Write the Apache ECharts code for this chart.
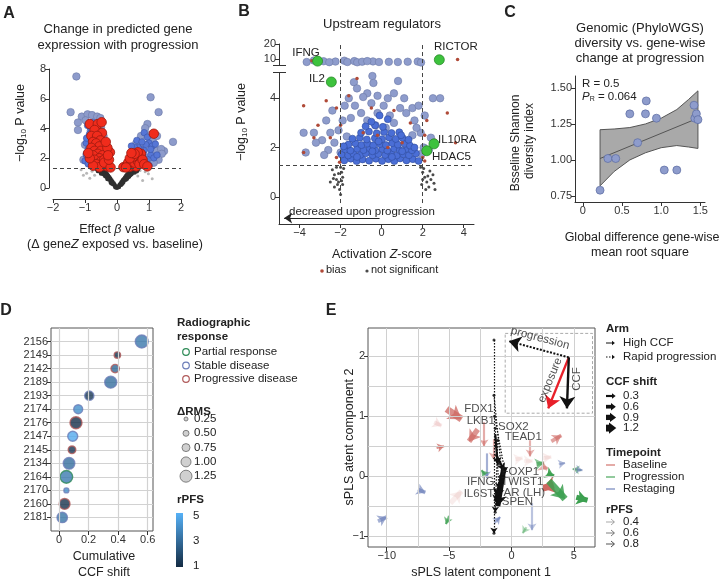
<!DOCTYPE html>
<html>
<head>
<meta charset="utf-8">
<script src="https://cdn.jsdelivr.net/npm/echarts@6/dist/echarts.min.js"></script>
<style>html,body{margin:0;padding:0;background:#fff}#main{width:720px;height:582px}</style>
</head>
<body>
<div id="main"></div>
<script>
var FF = '"Liberation Sans", Arial, Helvetica, sans-serif';

// ---- A: volcano, effect beta vs -log10 P
var aDark = [[0,0.02],[-0.03,0.08],[0.04,0.1],[-0.07,0.18],[0.08,0.2],[-0.1,0.3],[0.11,0.28],[-0.14,0.4],[0.14,0.38],[-0.17,0.5],[0.18,0.52],[-0.21,0.62],[0.22,0.6],[-0.24,0.72],[0.25,0.7],[-0.28,0.83],[0.29,0.82],[-0.31,0.93],[0.32,0.9],[-0.35,1.05],[0.36,1.02],[-0.38,1.15],[0.39,1.12],[-0.42,1.25],[0.43,1.24],[-0.12,0.25],[0.13,0.22],[-0.2,0.42],[0.2,0.4],[-0.26,0.58],[0.27,0.55],[-0.33,0.75],[0.34,0.72],[-0.4,0.9],[0.41,0.88],[-0.46,1.05],[0.47,1.02],[-0.5,1.18],[0.52,1.15],[-0.55,1.28],[0.57,1.25],[-0.3,0.6],[0.31,0.62],[-0.37,0.8],[0.38,0.78],[-0.44,0.95],[0.45,0.93],[-0.5,0.98],[0.55,1.05],[-0.6,1.15],[0.62,1.12],[-0.18,0.32],[0.17,0.3],[-0.05,0.05],[0.06,0.06],[-0.48,1.28],[0.5,1.3],[-0.65,1.3],[0.66,1.28]];
var aPale = [[-0.95,1.0],[-1.05,0.85],[-0.78,1.12],[0.88,1.1],[0.98,0.95],[1.1,0.62],[-1.12,1.22],[0.72,1.18],[-0.7,0.85],[0.65,0.8],[-0.85,0.65],[0.8,0.5]];
var aBlueLight = [[-1.27,7.5],[-1.45,5.1],[-1.1,4.8],[-0.92,4.95],[-1.22,4.4],[-1.22,3.9],[-0.78,4.9],[-0.62,4.8],[-0.52,4.7],[-0.98,4.55],[-0.82,3.85],[-0.88,3.4],[-0.72,3.25],[-0.5,4.05],[-0.42,3.5],[-1.0,2.9],[-0.95,2.3],[-1.05,1.9],[1.05,6.1],[1.3,5.1],[1.75,3.1],[0.95,4.3],[0.88,4.02],[1.22,2.5],[1.47,2.48],[1.38,2.62],[1.12,3.2],[0.75,3.5],[1.25,3.5],[0.8,2.85],[1.0,3.55],[1.4,2.3],[0.6,3.0],[1.3,1.9],[1.15,1.7],[0.9,1.45]];
var aBlue = [[-0.92,4.2],[-0.76,4.42],[-0.82,4.02],[-0.66,4.2],[-0.86,3.62],[-0.72,3.62],[-0.96,3.02],[-0.9,2.62],[-0.96,2.22],[-1.0,1.82],[-0.86,2.02],[-0.8,2.92],[-0.6,3.52],[-0.56,3.82],[-0.9,1.62],[-0.78,1.45],[-0.95,3.35],[-0.65,3.9],[0.85,3.72],[0.95,3.42],[1.0,3.02],[1.1,2.82],[0.9,2.92],[0.85,2.52],[1.05,2.22],[1.15,2.02],[0.82,2.22],[0.95,1.92],[0.9,1.62],[1.0,1.52],[0.72,2.62],[0.66,2.72],[1.25,2.22],[0.78,1.72],[0.55,2.72],[0.48,2.52],[0.45,2.82],[0.62,3.2],[1.05,2.6],[1.2,2.95],[0.78,3.1]];
var aRed = [[-0.85,4.3],[-0.6,4.3],[-0.48,4.42],[-0.7,3.9],[-0.47,3.7],[-0.8,3.5],[-0.62,3.5],[-0.52,3.2],[-0.75,3.1],[-0.65,3.0],[-0.55,2.8],[-0.8,2.7],[-0.7,2.5],[-0.5,2.5],[-0.6,2.3],[-0.75,2.2],[-0.45,2.2],[-0.55,2.0],[-0.7,1.9],[-0.5,1.8],[-0.4,1.9],[-0.65,1.6],[-0.45,1.5],[-0.3,1.45],[-0.55,1.4],[-0.75,1.5],[-0.85,2.0],[-0.9,2.35],[-0.4,1.7],[-0.2,1.38],[-0.25,1.9],[-0.22,2.4],[-0.3,2.7],[-0.35,3.1],[-0.28,2.2],[0.2,1.4],[0.3,1.5],[0.4,1.42],[0.5,1.5],[0.6,1.45],[0.35,1.7],[0.45,1.8],[0.55,1.7],[0.65,1.8],[0.7,2.0],[0.6,2.2],[0.5,2.1],[0.4,2.0],[0.75,2.3],[0.65,2.4],[0.55,2.3],[0.7,1.6],[1.15,3.65],[0.28,1.38],[0.8,1.9],[0.85,1.6],[0.45,2.35],[0.95,1.45]];

// ---- B: upstream regulators (raw -log10 P, values above 5 go to the broken top)
var bBlueLight = [[-3.65,8.0],[-3.3,9.0],[-2.83,8.5],[-2.25,8.3],[-1.82,8.9],[-1.67,8.0],[-1.33,8.6],[-1.19,7.8],[-0.95,8.2],[-0.42,8.4],[-0.13,8.0],[0.35,8.1],[0.79,8.0],[1.27,8.2],[1.76,8.3],[1.92,7.7],[-2.55,7.9],[-0.7,8.6],[-1.35,4.65],[-0.45,4.9],[-0.4,4.62],[0.8,4.7],[-1.2,4.4],[-0.7,4.2],[-1.6,4.0],[-0.9,4.05],[-0.2,4.1],[0.3,4.0],[0.6,4.2],[1.1,4.0],[2.5,4.0],[2.85,4.0],[-1.8,3.7],[-1.3,3.7],[-0.5,3.8],[0.1,3.7],[0.9,3.6],[1.5,3.6],[1.8,3.7],[-2.4,3.5],[-1.0,3.4],[-0.2,3.4],[0.4,3.3],[1.2,3.4],[2.1,3.3],[-2.7,3.1],[-1.9,3.1],[-1.5,3.2],[-0.7,3.1],[0.6,3.0],[1.6,3.1],[-3.3,2.6],[-3.8,2.6],[-2.5,2.6],[-2.9,2.3],[-3.2,2.2],[-3.7,1.8],[-2.6,1.9],[-2.3,2.2],[1.9,2.6],[2.4,2.4],[1.7,2.8],[-0.3,2.9],[0.2,2.8],[-2.1,2.7],[-2.0,1.8],[1.95,1.75],[2.05,2.0],[-1.7,2.45],[1.5,2.5],[-2.8,1.7],[2.3,1.9]];
var bBlue = [[-1.82,1.48],[-1.5,1.55],[-1.22,1.45],[-0.93,1.52],[-0.61,1.47],[-0.28,1.55],[0.02,1.46],[0.33,1.53],[0.62,1.45],[0.9,1.56],[1.21,1.48],[1.52,1.53],[1.8,1.46],[-1.95,1.72],[-1.63,1.68],[-1.37,1.75],[-1.04,1.7],[-0.77,1.77],[-0.44,1.69],[-0.16,1.74],[0.17,1.7],[0.46,1.78],[0.74,1.68],[1.06,1.73],[1.33,1.69],[1.67,1.76],[-1.78,1.93],[-1.52,1.88],[-1.19,1.95],[-0.88,1.9],[-0.58,1.97],[-0.31,1.89],[0.04,1.94],[0.28,1.88],[0.61,1.96],[0.88,1.9],[1.22,1.95],[1.48,1.89],[-1.62,2.12],[-1.28,2.17],[-0.98,2.1],[-0.69,2.16],[-0.41,2.09],[-0.08,2.14],[0.21,2.1],[0.52,2.18],[0.79,2.12],[1.12,2.15],[1.38,2.08],[-1.42,2.36],[-1.06,2.4],[-0.72,2.33],[-0.33,2.38],[0.02,2.34],[0.36,2.41],[0.69,2.35],[1.02,2.39],[1.31,2.32],[-1.0,2.6],[-0.62,2.65],[-0.24,2.58],[0.12,2.63],[0.48,2.59],[0.86,2.62],[-0.78,2.86],[-0.32,2.9],[0.06,2.84],[-0.5,3.05],[0.3,3.15],[-0.1,3.3],[-1.2,1.62],[0.5,1.62],[-0.45,1.85],[1.0,1.85],[-1.85,2.05],[1.6,2.0],[-0.15,2.25],[0.95,2.5]];
var bBias = [[-3.8,3.7],[-3.8,1.8],[-3.3,2.4],[-3.1,2.9],[-2.7,3.9],[-2.2,3.6],[-2.0,2.9],[-1.6,4.1],[-1.2,4.8],[-0.5,3.6],[-0.9,2.6],[0.6,3.5],[1.4,3.0],[2.2,3.1],[2.1,2.5],[3.2,3.4],[3.6,2.2],[2.6,2.3],[2.0,1.6],[-2.2,1.6],[-2.5,2.4],[2.1,1.45],[-2.05,1.4],[0.3,2.0],[-0.2,2.5],[1.0,2.2],[3.7,9.7],[-3.4,8.8]];
var bNs = [[-2.4,1.1],[-2.3,0.9],[-2.2,0.7],[-2.15,0.5],[-2.05,0.3],[-2.0,1.2],[-1.95,1.0],[-1.9,0.8],[-2.1,0.6],[-2.3,0.4],[-2.5,0.6],[-2.0,0.1],[-1.9,0.5],[-2.2,1.2],[-1.85,1.15],[-2.35,0.75],[-1.95,0.65],[-2.1,0.95],[1.9,1.2],[2.0,1.0],[2.1,0.8],[2.2,0.6],[2.3,0.4],[2.4,0.7],[2.5,0.9],[2.15,0.3],[1.95,0.5],[2.6,0.3],[2.05,1.15],[2.35,1.05],[2.25,0.85],[2.55,0.55],[2.0,0.7]];
var bGenes = ['IFNG', 'RICTOR', 'IL2', 'IL10RA', 'HDAC5'];
var bGeneX = [-3.12, 2.81, -2.45, 2.55, 2.2];
var bGeneP = [8.6, 9.5, 4.66, 2.15, 1.87];
var bYTicks = [0, 2, 4, 10, 20];

// ---- C: diversity vs gene-wise change
var cX = [0.22, 0.32, 0.42, 0.6, 0.7, 0.8, 0.81, 0.94, 1.04, 1.2, 1.42, 1.43, 1.45, 1.47];
var cY = [0.79, 1.01, 1.01, 1.32, 1.12, 1.32, 1.41, 1.29, 0.93, 0.93, 1.38, 1.29, 1.32, 1.28];
var cFitX = [0.22, 1.47];
var cFitY = [1.01, 1.29];
var cBandX = [0.22, 0.4, 0.6, 0.8, 1.0, 1.2, 1.35, 1.47];
var cBandLo = [0.82, 0.92, 1.0, 1.05, 1.085, 1.1, 1.09, 1.08];
var cBandHi = [1.21, 1.215, 1.225, 1.25, 1.29, 1.35, 1.42, 1.48];

// ---- D: cumulative CCF shift per patient (top to bottom)
var dIds = ['2156','2149','2142','2189','2193','2174','2176','2147','2145','2134','2164','2170','2160','2181'];
var dShift = [0.56, 0.395, 0.38, 0.35, 0.205, 0.13, 0.115, 0.093, 0.088, 0.068, 0.05, 0.05, 0.038, 0.022];
var dRms = [1.37, 0.55, 0.8, 1.25, 0.9, 0.87, 1.25, 1.0, 0.7, 1.2, 1.33, 0.37, 1.1, 1.05];
var dPfs = [3.3, 1.2, 2.8, 3.0, 1.4, 4.0, 1.1, 4.8, 1.3, 3.0, 3.4, 4.0, 1.2, 3.2];
var dResp = ['S','P','P','S','S','S','P','S','P','S','R','S','P','S'];
var dRespNames = ['Partial response', 'Stable disease', 'Progressive disease'];
var dRmsTicks = [0.25, 0.5, 0.75, 1.0, 1.25];

// ---- E: sPLS latent space arrows [x0, y0, x1, y1, timepoint, rPFS, CCF shift]
var eArrows = [
  [-5.2,1.12,-4.0,0.95,'B',0.75,1.2],[-6.2,0.9,-5.6,0.84,'B',0.15,0.6],[-2.7,0.78,-3.4,0.58,'B',0.7,0.9],
  [-6.0,0.47,-5.4,0.5,'B',0.75,0.3],[-2.2,0.9,-2.2,0.5,'B',0.55,0.3],[-1.45,0.62,-1.45,0.28,'B',0.5,0.3],
  [-2.0,0.38,-2.0,-0.03,'R',0.6,0.3],[-2.1,0.02,-2.4,0.1,'P',0.7,0.3],[-7.5,-0.22,-6.9,-0.27,'R',0.6,0.6],
  [-4.9,-0.45,-4.0,-0.25,'B',0.12,0.9],[-10.7,-0.75,-10.0,-0.68,'R',0.6,0.6],[-5.0,-0.66,-5.25,-0.8,'P',0.7,0.3],
  [3.2,0.58,4.0,0.68,'B',0.6,0.6],[1.5,0.6,1.5,0.33,'B',0.5,0.3],[1.0,0.25,1.7,0.25,'B',0.1,0.6],
  [2.5,0.3,3.2,0.32,'B',0.12,0.6],[2.0,0.2,2.6,0.22,'P',0.6,0.6],[2.5,0.16,2.9,0.12,'B',0.5,0.6],
  [3.8,0.2,4.3,0.22,'R',0.5,0.3],[5.6,0.1,4.9,0.12,'P',0.5,0.3],[5.0,0.12,5.7,0.1,'R',0.5,0.3],
  [2.9,0.05,3.4,0.0,'P',0.9,0.6],[3.4,-0.15,2.5,-0.2,'B',1.0,1.2],[3.0,-0.08,4.3,-0.38,'P',0.85,1.2],
  [5.2,-0.35,6.1,-0.4,'P',1.0,0.9],[1.65,-0.45,1.65,-0.9,'R',0.45,0.3],[1.2,-0.85,0.9,-0.95,'P',0.4,0.3],
  [-1.35,-0.78,-0.9,-0.68,'R',0.6,0.3],[0.3,0.28,0.9,0.3,'B',0.1,0.6],
  [-0.6,0.15,-1.1,-0.5,'K',1,0.9],[-0.7,0.05,-1.2,-0.35,'K',1,0.6],[-1.2,0.35,-0.6,0.1,'K',1,0.3],
  [-1.3,0.7,-1.1,0.2,'K',1,0.3],[-1.4,2.27,-1.4,-0.95,'D',1,0.3],[-1.4,1.35,-0.7,-0.1,'D',1,0.3],
  [-1.35,1.0,-0.5,0.05,'D',1,0.3],[-1.1,0.6,-1.3,-0.6,'D',1,0.3],[-1.3,0.8,-1.0,-0.2,'D',1,0.3]
];
var eDots = [[-1.4,2.27],[-1.4,1.35],[-1.35,1.0],[-1.3,0.8],[-1.1,0.6],[-1.25,0.5],[-1.2,0.35],[-1.0,0.2],[-0.9,0.0],[-1.3,-0.4],[-1.3,-0.6],[-1.4,-0.95]];
var eGenes = ['FDX1','LKB1','SOX2','TEAD1','IFNG','IL6ST','FOXP1','TWIST1','AR (LH)','SPEN'];
var eGeneXY = [[-2.6,1.13],[-2.46,0.93],[0.16,0.83],[0.95,0.65],[-2.46,-0.1],[-2.6,-0.3],[0.71,0.07],[0.87,-0.1],[1.03,-0.27],[0.48,-0.43]];
var eKeyStart = [4.6, 1.98];
var eKeyExposure = [2.95, 1.13];
var eKeyCCF = [4.45, 1.13];
var eKeyProg = [-0.2, 2.25];

var tpColor = {B: [206,104,98], P: [60,160,80], R: [104,124,184]};
var respColor = {R: '#2e8b57', S: '#6c7db8', P: '#b05a5a'};
var pfsLow = '#132b43', pfsHigh = '#56b1f7';
var minus = function (v) { return String(v).replace('-', '\u2212'); };
function brk(v) { return v <= 5 ? v : 5.59 + (v - 10) * 0.06; }

var chart = echarts.init(document.getElementById('main'));

function ax(gi, min, max, o) {
  return Object.assign({
    gridIndex: gi, type: 'value', min: min, max: max,
    axisLine: {show: true, onZero: false, lineStyle: {color: '#333', width: 1}},
    axisTick: {show: true, length: 4, lineStyle: {color: '#333'}},
    axisLabel: {color: '#333', fontSize: 11, fontFamily: FF, margin: 3, formatter: minus},
    splitLine: {show: false}
  }, o);
}
function cust(vals, fmt, margin) {
  return {axisLabel: {color: '#333', fontSize: 11, fontFamily: FF, margin: margin || 3, customValues: vals, formatter: fmt || minus},
          axisTick: {show: true, length: 4, customValues: vals, lineStyle: {color: '#333'}}};
}
var noLine = {axisLine: {show: false, onZero: false}};

var grids = [
  {left: 53, top: 69, width: 128, height: 119},
  {left: 279, top: 44, width: 195, height: 180},
  {left: 575, top: 76, width: 130, height: 126},
  {left: 51, top: 328, width: 102, height: 203, show: true, borderColor: '#555', borderWidth: 1},
  {left: 368, top: 328, width: 227, height: 219, show: true, borderColor: '#555', borderWidth: 1}
];

var xAxes = [
  ax(0, -2, 2, {interval: 1, offset: 11}),
  ax(1, -5, 4.5, cust([-4, -2, 0, 2, 4])),
  ax(2, -0.1, 1.56, cust([0, 0.5, 1, 1.5], function (v) { return v === 0 ? '0' : v.toFixed(1); })),
  ax(3, -0.054, 0.636, Object.assign({}, noLine, cust([0, 0.2, 0.4, 0.6], function (v) { return v === 0 ? '0' : v.toFixed(1); }))),
  ax(4, -11.5, 6.7, Object.assign({}, noLine, cust([-10, -5, 0, 5])))
];
var yAxes = [
  ax(0, 0, 8, {interval: 2, offset: 4}),
  ax(1, -1.1, 6.2, cust(bYTicks.map(brk), function (v) {
    for (var i = 0; i < bYTicks.length; i++) { if (Math.abs(brk(bYTicks[i]) - v) < 1e-6) return String(bYTicks[i]); }
    return '';
  })),
  ax(2, 0.708, 1.583, cust([0.75, 1, 1.25, 1.5], function (v) { return v.toFixed(2); })),
  ax(3, 0, 15, Object.assign({interval: 1, splitLine: {show: true, lineStyle: {color: '#d2d2d2', width: 1.2}}}, noLine,
    cust([1,2,3,4,5,6,7,8,9,10,11,12,13,14], function (v) { return dIds[14 - v] || ''; }))),
  ax(4, -1.18, 2.47, Object.assign({}, noLine, cust([-1, 0, 1, 2])))
];

function sc(gi, data, size, color, border, bw, z) {
  return {type: 'scatter', xAxisIndex: gi, yAxisIndex: gi, data: data, symbolSize: size, silent: true, z: z || 2,
          itemStyle: {color: color, borderColor: border || color, borderWidth: bw || 0, opacity: 1}};
}

var series = [];
// A
series.push(Object.assign(sc(0, aPale, 3, '#b8b8b8'), {
  markLine: {silent: true, symbol: 'none', label: {show: false},
    lineStyle: {color: '#444', type: [4, 3], width: 1}, data: [{yAxis: 1.3}]}}));
series.push(sc(0, aDark, 4.5, '#2f2f2f'));
series.push(sc(0, aBlueLight, 7.5, '#8d9bcb', '#6b78a6', 0.6, 3));
series.push(sc(0, aBlue, 6.5, '#5676d6', '#3a55a8', 0.6, 3));
series.push(sc(0, aRed, 9.5, '#f02c1c', '#9a1a10', 0.8, 4));
// B
var tr = function (p) { return [p[0], brk(p[1])]; };
series.push(Object.assign(sc(1, bNs, 3, '#4a4a4a'), {
  markLine: {silent: true, symbol: 'none', label: {show: false},
    lineStyle: {color: '#444', type: [4, 3], width: 1},
    data: [[{coord: [-2, -0.25]}, {coord: [-2, 6.2]}], [{coord: [2, -0.25]}, {coord: [2, 6.2]}], {yAxis: 1.3}]}}));
series.push(sc(1, bBlueLight.map(tr), 7.5, '#8e9ccc', '#6b78a6', 0.6, 3));
series.push(sc(1, bBlue.map(tr), 7, '#4a6ed6', '#2f4c9c', 0.6, 3));
series.push(sc(1, bBias.map(tr), 3.5, '#b04a38', '#b04a38', 0, 4));
series.push(Object.assign(sc(1, bGeneX.map(function (x, i) { return [x, brk(bGeneP[i])]; }), 10, '#3dc23d', '#2a8a2a', 0.8, 5), {
  markLine: {silent: true, symbol: ['none', 'arrow'], symbolSize: 8, label: {show: false},
    lineStyle: {color: '#222', type: 'solid', width: 1},
    data: [[{coord: [-0.1, -0.86]}, {coord: [-4.75, -0.86]}]]}}));
// C: confidence band as a polygon through the axis scales
series.push({type: 'custom', xAxisIndex: 2, yAxisIndex: 2, silent: true, z: 1, data: [[cBandX[0], cBandLo[0]]],
  renderItem: function (params, api) {
    var pts = [];
    for (var i = 0; i < cBandX.length; i++) pts.push(api.coord([cBandX[i], cBandHi[i]]));
    for (var j = cBandX.length - 1; j >= 0; j--) pts.push(api.coord([cBandX[j], cBandLo[j]]));
    return {type: 'polygon', shape: {points: pts}, style: {fill: '#a9a9a9', stroke: '#555', lineWidth: 1}};
  }});
series.push({type: 'line', xAxisIndex: 2, yAxisIndex: 2, symbol: 'none', silent: true,
  data: cFitX.map(function (x, i) { return [x, cFitY[i]]; }), lineStyle: {color: '#555', width: 1}, z: 2});
series.push(sc(2, cX.map(function (x, i) { return [x, cY[i]]; }), 8, '#8e9ccc', '#5a6aa0', 0.7, 3));
// D
series.push({type: 'scatter', xAxisIndex: 3, yAxisIndex: 3, silent: true, z: 3,
  markLine: {silent: true, symbol: 'none', label: {show: false}, lineStyle: {color: '#d2d2d2', type: 'solid', width: 1.2},
    data: [0, 0.2, 0.4, 0.6].map(function (v) { return {xAxis: v}; })},
  data: dIds.map(function (id, i) {
    return {value: [dShift[i], 14 - i, dPfs[i], dRms[i]], symbolSize: 2 + 8 * dRms[i],
            itemStyle: {borderColor: respColor[dResp[i]], borderWidth: 1.4}};
  })});
var dIndex = series.length - 1;
// E grid lines, key box and dots
series.push({type: 'scatter', xAxisIndex: 4, yAxisIndex: 4, data: eDots, symbolSize: 3, silent: true, z: 6,
  itemStyle: {color: '#111'},
  markLine: {silent: true, symbol: 'none', label: {show: false}, lineStyle: {color: '#d0d0d0', type: 'solid', width: 1},
    data: [-10, -7.5, -5, -2.5, 0, 2.5, 5].map(function (v) { return {xAxis: v}; })
      .concat([-1, -0.5, 0, 0.5, 1, 1.5, 2].map(function (v) { return {yAxis: v}; }))},
  markArea: {silent: true, itemStyle: {color: 'rgba(0,0,0,0)', borderColor: '#aaa', borderWidth: 1, borderType: [3, 2]},
    data: [[{coord: [-0.5, 2.38]}, {coord: [6.5, 1.05]}]]}});
eArrows.forEach(function (a) {
  var col, w = 0.6 + a[6] * 5.2, type = 'solid';
  if (a[4] === 'K') col = '#111';
  else if (a[4] === 'D') { col = '#111'; w = 1.2; type = [1.5, 1.5]; }
  else { var c = tpColor[a[4]]; col = 'rgba(' + c[0] + ',' + c[1] + ',' + c[2] + ',' + a[5] + ')'; }
  series.push({type: 'lines', coordinateSystem: 'cartesian2d', xAxisIndex: 4, yAxisIndex: 4, silent: true,
    symbol: ['none', 'arrow'], symbolSize: 4 + w * 1.3, z: a[4] === 'K' || a[4] === 'D' ? 5 : 4,
    lineStyle: {color: col, width: w, type: type, opacity: 1},
    data: [{coords: [[a[0], a[1]], [a[2], a[3]]]}]});
});
[[eKeyExposure, '#e8202a', 'solid', 2.4], [eKeyCCF, '#111', 'solid', 2.4], [eKeyProg, '#111', [2, 1.5], 2]].forEach(function (k) {
  series.push({type: 'lines', coordinateSystem: 'cartesian2d', xAxisIndex: 4, yAxisIndex: 4, silent: true,
    symbol: ['none', 'arrow'], symbolSize: 12, z: 6,
    lineStyle: {color: k[1], width: k[3], type: k[2], opacity: 1},
    data: [{coords: [eKeyStart, k[0]]}]});
});
var lblStyle = {show: true, position: 'inside', color: '#222', fontSize: 11.5, fontFamily: FF, formatter: '{b}'};
series.push({type: 'scatter', xAxisIndex: 4, yAxisIndex: 4, symbolSize: 0, silent: true, z: 7,
  label: lblStyle,
  data: eGenes.map(function (g, i) { return {name: g, value: eGeneXY[i]}; })
    .concat([
      {name: 'progression', value: [2.3, 2.3], label: {rotate: -15}},
      {name: 'exposure', value: [3.1, 1.6], label: {rotate: 68}},
      {name: 'CCF', value: [5.25, 1.62], label: {rotate: 90}}
    ])});

// ---- texts and legends
function txt(x, y, s, o, rot) {
  var st = Object.assign({text: s, fill: '#222', fontSize: 12, fontFamily: FF,
    align: 'center', verticalAlign: 'middle', textAlign: 'center', textVerticalAlign: 'middle'}, o || {});
  if (o && o.align) st.textAlign = o.align;
  return {type: 'text', x: x, y: y, rotation: rot ? Math.PI / 2 : 0, silent: true, z: 20, style: st};
}
var B = {fontWeight: 'bold', fontSize: 11.5, align: 'left'};
var subRich = {
  s: {fontSize: 8, fontFamily: FF, fill: '#222', verticalAlign: 'bottom', padding: [6, 0, 0, 0]},
  i: {fontSize: 12.5, fontFamily: FF, fill: '#222', fontStyle: 'italic'}
};
var g = [];
// letters
g.push(txt(9, 14, 'A', {fontSize: 16, fontWeight: 'bold'}));
g.push(txt(244, 12, 'B', {fontSize: 16, fontWeight: 'bold'}));
g.push(txt(510, 13, 'C', {fontSize: 16, fontWeight: 'bold'}));
g.push(txt(6, 311, 'D', {fontSize: 16, fontWeight: 'bold'}));
g.push(txt(331, 311, 'E', {fontSize: 16, fontWeight: 'bold'}));
// A texts
g.push(txt(118, 29, 'Change in predicted gene', {fontSize: 13}));
g.push(txt(118, 45, 'expression with progression', {fontSize: 13}));
g.push(txt(21, 123, '\u2212log{s|10} P value', {fontSize: 12.5, rich: subRich}, true));
g.push(txt(117, 230, 'Effect {i|\u03b2} value', {fontSize: 12.5, rich: subRich}));
g.push(txt(115, 245, '(\u0394 gene{i|Z} exposed vs. baseline)', {fontSize: 12.5, rich: subRich}));
// B texts
g.push(txt(382, 24, 'Upstream regulators', {fontSize: 13}));
g.push(txt(242, 122, '\u2212log{s|10} P value', {fontSize: 12.5, rich: subRich}, true));
g.push(txt(382, 255, 'Activation {i|Z}-score', {fontSize: 12.5, rich: subRich}));
g.push({type: 'circle', shape: {cx: 322, cy: 271, r: 1.8}, style: {fill: '#b04a38'}, silent: true});
g.push(txt(326, 270, 'bias', {fontSize: 11, align: 'left'}));
g.push({type: 'circle', shape: {cx: 367, cy: 271, r: 1.6}, style: {fill: '#4a4a4a'}, silent: true});
g.push(txt(371, 270, 'not significant', {fontSize: 11, align: 'left'}));
g.push(txt(362, 212, 'decreased upon progression', {fontSize: 11.5}));
g.push(txt(306, 53, 'IFNG', {fontSize: 11.5}));
g.push(txt(434, 47, 'RICTOR', {fontSize: 11.5, align: 'left'}));
g.push(txt(317, 79, 'IL2', {fontSize: 11.5}));
g.push(txt(438, 140, 'IL10RA', {fontSize: 11.5, align: 'left'}));
g.push(txt(432, 157, 'HDAC5', {fontSize: 11.5, align: 'left'}));
// axis break marks on B
g.push({type: 'rect', shape: {x: 276, y: 66, width: 6, height: 6}, style: {fill: '#fff'}, silent: true, z: 15});
g.push({type: 'line', shape: {x1: 273, y1: 65.5, x2: 286, y2: 65.5}, style: {stroke: '#333', lineWidth: 1}, silent: true, z: 16});
g.push({type: 'line', shape: {x1: 273, y1: 72.5, x2: 286, y2: 72.5}, style: {stroke: '#333', lineWidth: 1}, silent: true, z: 16});
// C texts
g.push(txt(640, 28, 'Genomic (PhyloWGS)', {fontSize: 13}));
g.push(txt(640, 43, 'diversity vs. gene-wise', {fontSize: 13}));
g.push(txt(640, 58, 'change at progression', {fontSize: 13}));
g.push(txt(516, 143, 'Bsseline Shannon', {fontSize: 12}, true));
g.push(txt(530, 141, 'diversity index', {fontSize: 12}, true));
g.push(txt(642, 238, 'Global difference gene-wise', {fontSize: 12.5}));
g.push(txt(640, 253, 'mean root square', {fontSize: 12.5}));
g.push(txt(582, 84, 'R = 0.5', {fontSize: 11.5, align: 'left'}));
g.push(txt(582, 97, '{i|P}{s|R} = 0.064', {fontSize: 11.5, align: 'left', rich: {
  i: {fontSize: 11.5, fontFamily: FF, fill: '#222', fontStyle: 'italic'},
  s: {fontSize: 7, fontFamily: FF, fill: '#222', verticalAlign: 'bottom', padding: [5, 0, 0, 0]}}}));
// D texts and legends
g.push(txt(104, 557, 'Cumulative', {fontSize: 12.5}));
g.push(txt(104, 573, 'CCF shift', {fontSize: 12.5}));
g.push(txt(177, 323, 'Radiographic', B));
g.push(txt(177, 337, 'response', B));
['R', 'S', 'P'].forEach(function (k, i) {
  var y = 352 + i * 13.5;
  g.push({type: 'circle', shape: {cx: 186, cy: y, r: 3.3}, style: {fill: 'none', stroke: respColor[k], lineWidth: 1.2}, silent: true});
  g.push(txt(194, y, dRespNames[i], {fontSize: 11.5, align: 'left'}));
});
g.push(txt(177, 412, '\u0394RMS', B));
dRmsTicks.forEach(function (v, i) {
  var y = 419 + i * 14.3;
  g.push({type: 'circle', shape: {cx: 186, cy: y, r: (2 + 8 * v) / 2}, style: {fill: '#d0d0d0', stroke: '#666', lineWidth: 0.8}, silent: true});
  g.push(txt(194, y, v.toFixed(2), {fontSize: 11.5, align: 'left'}));
});
g.push(txt(177, 500, 'rPFS', B));
g.push({type: 'rect', shape: {x: 176, y: 513, width: 7, height: 54}, silent: true,
  style: {fill: new echarts.graphic.LinearGradient(0, 0, 0, 1, [{offset: 0, color: pfsHigh}, {offset: 1, color: pfsLow}])}});
g.push(txt(193, 516, '5', {fontSize: 11.5, align: 'left'}));
g.push(txt(193, 541, '3', {fontSize: 11.5, align: 'left'}));
g.push(txt(193, 566, '1', {fontSize: 11.5, align: 'left'}));
// E texts and legends
g.push(txt(481, 573, 'sPLS latent component 1', {fontSize: 12.5}));
g.push(txt(350, 437, 'sPLS atent component 2', {fontSize: 12.5}, true));
function arr(x1, x2, y, w, col, dash, h) {
  g.push({type: 'line', shape: {x1: x1, y1: y, x2: x2, y2: y}, style: {stroke: col, lineWidth: w, lineDash: dash || null}, silent: true});
  g.push({type: 'polygon', shape: {points: [[x2, y - h], [x2 + h * 1.3, y], [x2, y + h]]}, style: {fill: col}, silent: true});
}
g.push(txt(606, 329, 'Arm', B));
arr(606, 612, 343, 1, '#111', null, 2.2);
g.push(txt(623, 343, 'High CCF', {fontSize: 11.5, align: 'left'}));
arr(606, 612, 357, 1, '#111', [1.5, 1.5], 2.2);
g.push(txt(623, 357, 'Rapid progression', {fontSize: 11.5, align: 'left'}));
g.push(txt(606, 382, 'CCF shift', B));
[0.3, 0.6, 0.9, 1.2].forEach(function (v, i) {
  var y = 396 + i * 10.7, w = 0.6 + v * 5.2;
  arr(606, 612 - i, y, w, '#111', null, 1.5 + w * 0.6);
  g.push(txt(623, y, v.toFixed(1), {fontSize: 11.5, align: 'left'}));
});
g.push(txt(606, 453, 'Timepoint', B));
['B', 'P', 'R'].forEach(function (k, i) {
  var y = 465 + i * 12, c = tpColor[k];
  g.push({type: 'line', shape: {x1: 606, y1: y, x2: 615, y2: y}, style: {stroke: 'rgba(' + c.join(',') + ',0.8)', lineWidth: 1.4}, silent: true});
  g.push(txt(623, y, ['Baseline', 'Progression', 'Restaging'][i], {fontSize: 11.5, align: 'left'}));
});
g.push(txt(606, 510, 'rPFS', B));
[0.4, 0.6, 0.8].forEach(function (v, i) {
  var y = 522 + i * 11, gcol = 'rgba(40,40,40,' + v + ')';
  g.push({type: 'line', shape: {x1: 606, y1: y, x2: 614, y2: y}, style: {stroke: gcol, lineWidth: 1}, silent: true});
  g.push({type: 'polyline', shape: {points: [[611, y - 3], [614.5, y], [611, y + 3]]}, style: {stroke: gcol, lineWidth: 1, fill: 'none'}, silent: true});
  g.push(txt(623, y, v.toFixed(1), {fontSize: 11.5, align: 'left'}));
});

chart.setOption({
  animation: false,
  backgroundColor: '#fff',
  textStyle: {fontFamily: FF},
  grid: grids,
  xAxis: xAxes,
  yAxis: yAxes,
  visualMap: [{type: 'continuous', show: false, seriesIndex: dIndex, dimension: 2, min: 1, max: 5,
    inRange: {color: [pfsLow, pfsHigh]}}],
  series: series,
  graphic: g
});
</script>
</body>
</html>
